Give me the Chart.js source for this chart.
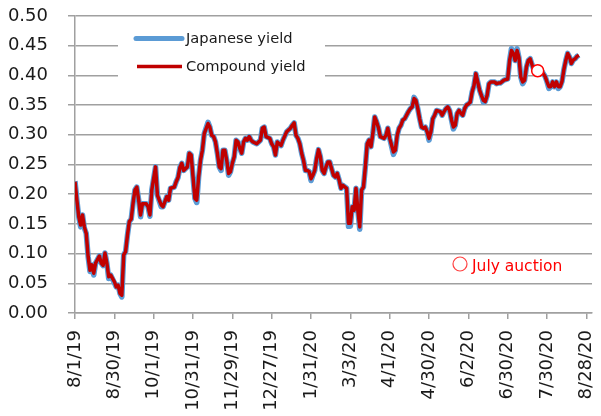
<!DOCTYPE html>
<html><head><meta charset="utf-8">
<script src="https://cdn.jsdelivr.net/npm/chart.js@4.4.1/dist/chart.umd.min.js"></script>
<style>html,body{margin:0;padding:0;background:#fff;}canvas{display:block;}</style>
</head><body>
<canvas id="c" width="601" height="416" style="width:601px;height:416px"></canvas>
<script>
// Tick labels on the date axis (one every 21 business days from 8/1/19)
const tickLabels = ['8/1/19','8/30/19','10/1/19','10/31/19','11/29/19','12/27/19','1/31/20','3/3/20','4/1/20','4/30/20','6/2/20','6/30/20','7/30/20','8/28/20'];
const daysPerTick = 21;
const lastDay = 276;
const yTicks = [0, 0.5, 0.05];
const seriesNames = ['Japanese yield', 'Compound yield'];
const auctionName = 'July auction';

// Business-day offset from 8/1/19
const days = [
  0,1,2,3,4,5,6,7,8,9,
  10,11,13,14,15,16,17,18,19,21,
  22,23,24,25,26,27,28,29,30,31,
  32,33,34,35,36,38,39,40,41,43,
  44,46,47,49,50,51,53,54,55,56,
  57,58,60,61,62,63,64,65,66,67,
  68,69,71,72,73,74,75,76,77,78,
  79,80,81,82,83,84,85,86,87,88,
  89,90,91,92,93,94,95,97,99,100,
  101,102,104,105,106,107,108,110,111,113,
  114,115,116,117,118,119,120,121,122,123,
  124,125,126,127,128,129,130,131,132,133,
  134,135,136,137,138,139,140,141,142,143,
  145,146,147,148,149,150,151,152,153,154,
  155,156,157,158,159,160,161,162,163,165,
  166,167,168,170,171,172,173,174,175,176,
  178,179,180,181,182,183,184,185,186,187,
  188,189,190,191,192,193,195,196,197,198,
  199,200,201,202,203,204,205,206,207,208,
  209,210,211,212,213,214,216,217,218,219,
  220,221,222,224,225,226,227,229,231,232,
  233,234,235,236,237,238,239,240,241,242,
  243,244,245,247,249,251,252,253,254,255,
  256,257,258,259,260,261,262,263,264,265,
  266,267,268,269
];

const compoundYield = [
  .221,.190,.162,.148,.165,.145,.134,.095,.072,.081,
  .067,.084,.096,.084,.080,.101,.084,.061,.064,.053,
  .044,.047,.033,.030,.098,.103,.131,.154,.158,.185,
  .207,.212,.190,.165,.184,.184,.179,.165,.207,.246,
  .198,.182,.179,.196,.190,.210,.212,.221,.228,.245,
  .252,.240,.246,.269,.266,.229,.193,.190,.229,.257,
  .274,.302,.319,.313,.299,.297,.288,.269,.246,.243,
  .274,.274,.257,.235,.238,.252,.263,.291,.288,.277,
  .269,.288,.294,.291,.297,.291,.288,.285,.291,.311,
  .313,.297,.294,.285,.280,.266,.288,.282,.291,.305,
  .308,.311,.316,.320,.299,.294,.285,.269,.257,.240,
  .240,.238,.226,.232,.240,.260,.275,.263,.240,.235,
  .246,.254,.254,.243,.232,.229,.235,.224,.210,.215,
  .210,.151,.151,.179,.173,.210,.173,.145,.207,.212,
  .246,.285,.291,.280,.302,.330,.322,.312,.297,.294,
  .299,.311,.294,.271,.274,.299,.311,.316,.325,.327,
  .339,.344,.347,.361,.358,.344,.327,.313,.311,.313,
  .305,.294,.305,.327,.333,.341,.339,.333,.339,.344,
  .347,.341,.325,.313,.316,.336,.341,.336,.333,.344,
  .350,.352,.355,.372,.383,.403,.375,.366,.358,.356,
  .366,.386,.389,.389,.386,.387,.387,.392,.394,.425,
  .442,.437,.425,.442,.430,.397,.389,.392,.414,.425,
  .428,.418,.409,.410,.408,.398,.389,.381,.381,.389,
  .381,.389,.381,.381,.390,.410,.425,.437,.431,.420,
  .426,.428,.432,.434
];

const japaneseYield = [
  .222,.190,.162,.145,.165,.143,.134,.095,.070,.081,
  .064,.084,.096,.084,.080,.101,.084,.058,.064,.051,
  .044,.047,.033,.027,.098,.103,.131,.154,.158,.185,
  .207,.212,.190,.162,.184,.184,.179,.163,.207,.246,
  .198,.179,.179,.196,.190,.210,.212,.221,.228,.245,
  .252,.240,.246,.269,.266,.229,.193,.186,.229,.257,
  .274,.302,.321,.313,.299,.297,.288,.269,.246,.240,
  .274,.274,.257,.232,.238,.252,.263,.291,.288,.277,
  .269,.288,.294,.291,.297,.291,.288,.285,.291,.311,
  .313,.297,.294,.285,.280,.266,.288,.282,.291,.305,
  .308,.311,.316,.320,.299,.294,.285,.269,.257,.240,
  .240,.238,.223,.232,.240,.260,.275,.263,.240,.235,
  .246,.254,.254,.243,.232,.229,.235,.224,.210,.215,
  .210,.146,.146,.179,.173,.210,.173,.141,.207,.212,
  .246,.285,.291,.280,.302,.330,.322,.312,.297,.294,
  .299,.311,.294,.267,.274,.299,.311,.316,.325,.327,
  .339,.344,.347,.363,.358,.344,.327,.313,.311,.313,
  .305,.291,.305,.327,.333,.341,.339,.333,.339,.344,
  .347,.341,.325,.310,.316,.336,.341,.336,.333,.344,
  .350,.352,.355,.372,.383,.403,.375,.366,.355,.356,
  .366,.386,.389,.389,.386,.387,.387,.392,.394,.425,
  .445,.437,.425,.445,.430,.397,.386,.392,.414,.425,
  .428,.418,.409,.410,.408,.398,.389,.378,.381,.389,
  .381,.389,.378,.381,.390,.410,.425,.437,.431,.420,
  .426,.428,.432,.434
];

const auctionDay = [247];
const auctionYield = [0.408];

const FONT = '"DejaVu Sans", sans-serif';
const GRID = '#a0a0a0';
const BLUE = '#5b9bd5';
const RED = '#c00000';

const toPoints = (xs, ys) => xs.map((x, i) => ({x: x, y: ys[i]}));

const overlay = {
  id: 'overlay',
  beforeDatasetsDraw(chart) {
    const ctx = chart.ctx;
    ctx.save();
    // legend box (covers grid lines)
    ctx.fillStyle = '#ffffff';
    ctx.fillRect(118, 28, 207, 58);
    ctx.lineCap = 'round';
    ctx.strokeStyle = BLUE; ctx.lineWidth = 5;
    ctx.beginPath(); ctx.moveTo(136, 38.5); ctx.lineTo(182, 38.5); ctx.stroke();
    ctx.lineCap = 'butt';
    ctx.strokeStyle = RED; ctx.lineWidth = 3.5;
    ctx.beginPath(); ctx.moveTo(137, 66.5); ctx.lineTo(182, 66.5); ctx.stroke();
    ctx.fillStyle = '#1a1a1a';
    ctx.font = '14.7px ' + FONT;
    ctx.textBaseline = 'middle';
    ctx.textAlign = 'left';
    ctx.fillText(seriesNames[0], 186, 39.5);
    ctx.fillText(seriesNames[1], 186, 67);
    ctx.restore();
  },
  afterDraw(chart) {
    const ctx = chart.ctx;
    ctx.save();
    ctx.strokeStyle = '#ff4040'; ctx.lineWidth = 1.2;
    ctx.beginPath(); ctx.arc(460, 264, 7, 0, Math.PI * 2); ctx.stroke();
    ctx.fillStyle = '#ff0000';
    ctx.font = '15.5px ' + FONT;
    ctx.textBaseline = 'alphabetic';
    ctx.textAlign = 'left';
    ctx.fillText(auctionName, 472, 271);
    ctx.restore();
  }
};

new Chart(document.getElementById('c'), {
  type: 'line',
  data: {
    datasets: [
      { label: auctionName, data: toPoints(auctionDay, auctionYield), showLine: false,
        pointRadius: 6, pointHoverRadius: 6, pointBorderColor: '#ff0000', pointBackgroundColor: '#ffffff',
        pointBorderWidth: 1.5, order: 0 },
      { label: seriesNames[1], data: toPoints(days, compoundYield), borderColor: RED, borderWidth: 3.5,
        pointRadius: 0, tension: 0, borderJoinStyle: 'round', fill: false, order: 1 },
      { label: seriesNames[0], data: toPoints(days, japaneseYield), borderColor: BLUE, borderWidth: 5.5,
        pointRadius: 0, tension: 0, borderJoinStyle: 'round', fill: false, order: 2 }
    ]
  },
  options: {
    responsive: false,
    devicePixelRatio: 1,
    animation: false,
    layout: { padding: { top: 16, right: 9, left: 0, bottom: 0 } },
    plugins: { legend: { display: false }, tooltip: { enabled: false } },
    scales: {
      x: {
        type: 'linear', min: 0, max: lastDay,
        afterFit(s) { s.height = 103; s.paddingLeft = 0; s.paddingRight = 0; },
        grid: { drawOnChartArea: false, drawTicks: true, tickLength: 6, color: GRID, lineWidth: 1.5 },
        border: { display: true, color: GRID, width: 1.5 },
        ticks: {
          stepSize: daysPerTick, includeBounds: false, autoSkip: false,
          minRotation: 90, maxRotation: 90, padding: 11,
          color: '#1a1a1a', font: { family: FONT, size: 18 },
          callback: (v) => tickLabels[Math.round(v / daysPerTick)] ?? ''
        }
      },
      y: {
        min: yTicks[0], max: yTicks[1],
        afterFit(s) { s.width = 75; s.paddingTop = 0; s.paddingBottom = 0; },
        grid: { color: GRID, lineWidth: 1.5, tickLength: 7 },
        border: { display: true, color: GRID, width: 1.5 },
        ticks: {
          stepSize: yTicks[2], padding: 20, color: '#1a1a1a',
          font: { family: FONT, size: 18 },
          callback: (v) => Number(v).toFixed(2)
        }
      }
    }
  },
  plugins: [overlay]
});
</script>
</body></html>
